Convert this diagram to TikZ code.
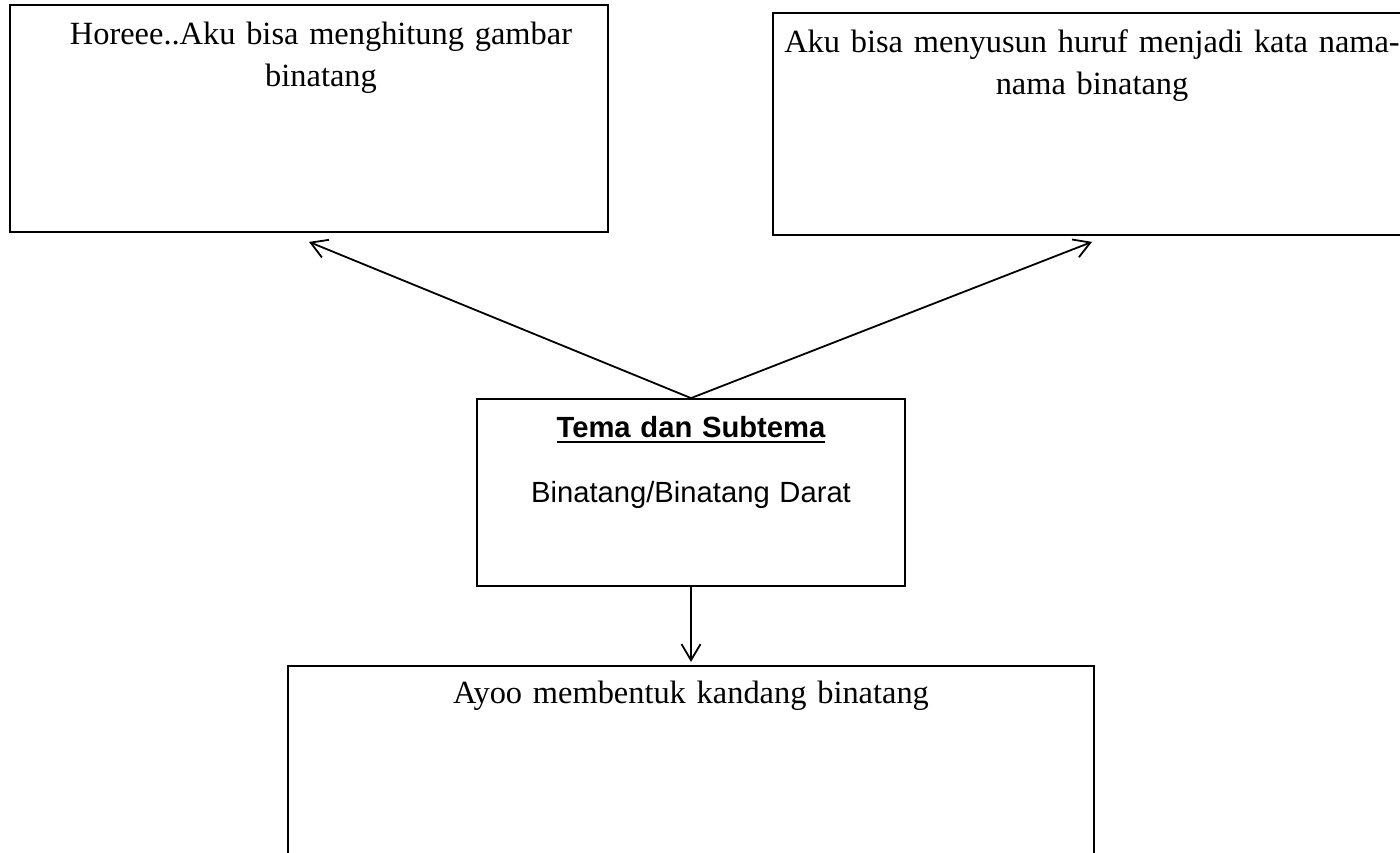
\documentclass[tikz,border=0pt]{standalone}
\usepackage{fontspec}
\setmainfont{Liberation Serif}
\setsansfont{Liberation Sans}
\usetikzlibrary{arrows.meta, positioning}

\newcommand{\garisbawah}[1]{\sbox0{#1}\rlap{\rule[-3pt]{\wd0}{1pt}}\usebox0}

\begin{document}
\begin{tikzpicture}[
    x=1pt, y=-1pt,
    box/.style={
        draw,
        rectangle,
        line width=0.9pt,
        inner sep=0pt
    },
    teks/.style={
        anchor=base,
        align=center,
        text width=#1,
        inner sep=0pt,
        font=\fontsize{16.2}{21}\selectfont
    },
    teks/.default=300pt,
    arrow/.style={-{Straight Barb[length=8pt,width=9.5pt]}, line width=0.9pt}
]
\useasboundingbox (0,0) rectangle (700,426);
\clip (0,0) rectangle (700,426);

% Tengah
\node[box, minimum width=214pt, minimum height=93.5pt] (tema) at (345.5,246.25) {};
\node[teks=200pt, font=\sffamily\fontsize{14.6}{32.5}\selectfont] (temateks)
    at ([yshift=-19.5pt]tema.north)
    {\textbf{\garisbawah{Tema dan Subtema}}\\ Binatang/Binatang Darat};

% Atas
\node[box, minimum width=299pt, minimum height=113.5pt] (hitung) at (154.5,59.25) {};
\node[teks=290pt] (hitungteks) at ([xshift=6pt,yshift=-20pt]hitung.north)
    {Horeee..Aku bisa menghitung gambar\\ binatang};

\node[box, minimum width=319pt, minimum height=111pt] (susun) at (546,62) {};
\node[teks=340pt] (susunteks) at ([yshift=-20pt]susun.north)
    {Aku bisa menyusun huruf menjadi kata nama-\\ nama binatang};

% Bawah
\node[box, minimum width=403pt, minimum height=118pt] (kandang) [below=39pt of tema] {};
\node[teks=380pt] (kandangteks) at ([yshift=-19.5pt]kandang.north)
    {Ayoo membentuk kandang binatang};

% Panah
\draw[arrow] (tema.north) -- ([yshift=-4.5pt]hitung.south);
\draw[arrow] (tema.north) -- ([yshift=-3pt]susun.south);
\draw[arrow, shorten >=1.5pt] (tema.south) -- (kandang.north);

\end{tikzpicture}
\end{document}
